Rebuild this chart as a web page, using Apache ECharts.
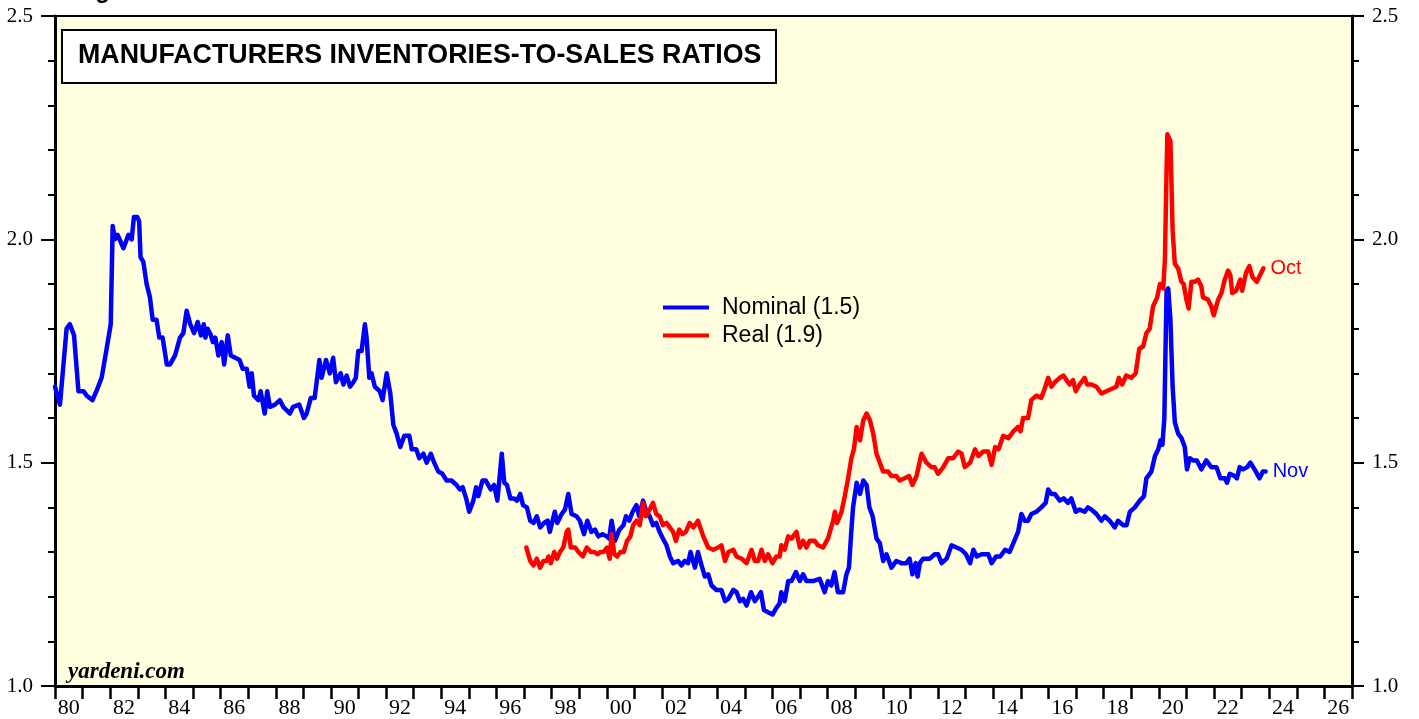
<!DOCTYPE html>
<html>
<head>
<meta charset="utf-8">
<title>Manufacturers Inventories-to-Sales Ratios</title>
<script src="https://cdn.jsdelivr.net/npm/echarts@6/dist/echarts.min.js"></script>
<style>
  html, body { margin: 0; padding: 0; background: #fff; }
  #chart { width: 1419px; height: 719px; }
</style>
</head>
<body>
<div id="chart"></div>
<script>
// values (decimal year, ratio)
const nominalYears = [
  1980.00, 1980.18, 1980.42, 1980.54, 1980.69, 1980.85, 1981.03, 1981.15, 1981.36, 1981.50,
  1981.69, 1981.87, 1982.02, 1982.09, 1982.17, 1982.27, 1982.48, 1982.66, 1982.78, 1982.86,
  1982.98, 1983.05, 1983.10, 1983.20, 1983.32, 1983.44, 1983.54, 1983.68, 1983.78, 1983.90,
  1984.05, 1984.17, 1984.35, 1984.53, 1984.65, 1984.77, 1984.90, 1985.04, 1985.17, 1985.29,
  1985.39, 1985.45, 1985.53, 1985.65, 1985.72, 1985.81, 1985.92, 1986.04, 1986.13, 1986.26,
  1986.37, 1986.53, 1986.69, 1986.80, 1986.95, 1987.05, 1987.13, 1987.21, 1987.37, 1987.45,
  1987.60, 1987.69, 1987.79, 1987.97, 1988.15, 1988.27, 1988.51, 1988.63, 1988.85, 1989.02,
  1989.12, 1989.27, 1989.41, 1989.58, 1989.66, 1989.82, 1989.96, 1990.08, 1990.18, 1990.35,
  1990.45, 1990.57, 1990.69, 1990.81, 1990.90, 1990.99, 1991.11, 1991.23, 1991.29, 1991.39,
  1991.47, 1991.59, 1991.77, 1991.87, 1992.02, 1992.15, 1992.26, 1992.38, 1992.51, 1992.66,
  1992.84, 1992.93, 1993.09, 1993.20, 1993.35, 1993.47, 1993.62, 1993.74, 1993.89, 1994.04,
  1994.19, 1994.37, 1994.55, 1994.67, 1994.77, 1994.90, 1995.01, 1995.16, 1995.26, 1995.34,
  1995.49, 1995.61, 1995.79, 1995.91, 1996.03, 1996.13, 1996.19, 1996.28, 1996.38, 1996.50,
  1996.64, 1996.74, 1996.86, 1996.96, 1997.10, 1997.22, 1997.34, 1997.46, 1997.58, 1997.72,
  1997.85, 1997.93, 1998.11, 1998.20, 1998.36, 1998.48, 1998.60, 1998.72, 1998.90, 1999.02,
  1999.17, 1999.29, 1999.44, 1999.57, 1999.69, 1999.84, 1999.99, 2000.08, 2000.17, 2000.29,
  2000.45, 2000.60, 2000.69, 2000.81, 2000.93, 2001.07, 2001.17, 2001.31, 2001.43, 2001.55,
  2001.67, 2001.79, 2001.91, 2002.03, 2002.16, 2002.28, 2002.40, 2002.58, 2002.70, 2002.82,
  2002.94, 2003.03, 2003.19, 2003.30, 2003.43, 2003.55, 2003.67, 2003.79, 2003.97, 2004.15,
  2004.28, 2004.40, 2004.58, 2004.70, 2004.82, 2004.94, 2005.06, 2005.22, 2005.36, 2005.48,
  2005.58, 2005.69, 2005.84, 2006.00, 2006.14, 2006.26, 2006.32, 2006.44, 2006.57, 2006.69,
  2006.85, 2006.99, 2007.11, 2007.23, 2007.47, 2007.71, 2007.89, 2008.01, 2008.13, 2008.25,
  2008.37, 2008.56, 2008.68, 2008.77, 2008.86, 2008.92, 2009.05, 2009.17, 2009.29, 2009.41,
  2009.51, 2009.63, 2009.77, 2009.89, 2010.01, 2010.13, 2010.31, 2010.49, 2010.67, 2010.85,
  2010.97, 2011.07, 2011.19, 2011.26, 2011.34, 2011.46, 2011.70, 2011.88, 2012.00, 2012.13,
  2012.31, 2012.49, 2012.67, 2012.85, 2013.01, 2013.16, 2013.28, 2013.40, 2013.58, 2013.82,
  2013.94, 2014.10, 2014.25, 2014.43, 2014.59, 2014.73, 2014.90, 2015.02, 2015.14, 2015.26,
  2015.38, 2015.56, 2015.74, 2015.90, 2015.99, 2016.11, 2016.23, 2016.41, 2016.55, 2016.71,
  2016.83, 2016.99, 2017.13, 2017.31, 2017.43, 2017.56, 2017.74, 2017.92, 2018.04, 2018.22,
  2018.40, 2018.52, 2018.71, 2018.83, 2018.95, 2019.13, 2019.31, 2019.46, 2019.55, 2019.73,
  2019.86, 2019.98, 2020.06, 2020.13, 2020.20, 2020.28, 2020.34, 2020.42, 2020.50, 2020.58,
  2020.70, 2020.82, 2020.94, 2021.02, 2021.12, 2021.24, 2021.38, 2021.54, 2021.72, 2021.90,
  2022.09, 2022.23, 2022.39, 2022.47, 2022.57, 2022.75, 2022.83, 2022.93, 2023.05, 2023.20,
  2023.32, 2023.47, 2023.65, 2023.77, 2023.87
];
const nominalValues = [
  1.67, 1.63, 1.80, 1.81, 1.785, 1.66, 1.66, 1.65, 1.64, 1.66,
  1.69, 1.755, 1.81, 2.03, 2.00, 2.01, 1.98, 2.01, 2.00, 2.05,
  2.05, 2.04, 1.96, 1.95, 1.90, 1.87, 1.82, 1.82, 1.78, 1.78,
  1.72, 1.72, 1.74, 1.78, 1.79, 1.84, 1.81, 1.79, 1.815, 1.785,
  1.81, 1.78, 1.80, 1.785, 1.77, 1.78, 1.74, 1.77, 1.72, 1.785,
  1.74, 1.735, 1.73, 1.71, 1.71, 1.67, 1.70, 1.65, 1.64, 1.66,
  1.61, 1.66, 1.625, 1.63, 1.64, 1.625, 1.61, 1.625, 1.63, 1.60,
  1.61, 1.645, 1.645, 1.73, 1.69, 1.73, 1.70, 1.735, 1.68, 1.70,
  1.675, 1.695, 1.67, 1.68, 1.69, 1.75, 1.75, 1.81, 1.78, 1.69,
  1.70, 1.67, 1.66, 1.64, 1.70, 1.655, 1.585, 1.565, 1.535, 1.56,
  1.56, 1.53, 1.53, 1.51, 1.52, 1.50, 1.52, 1.50, 1.48, 1.475,
  1.46, 1.46, 1.45, 1.44, 1.445, 1.42, 1.39, 1.415, 1.445, 1.425,
  1.46, 1.46, 1.44, 1.45, 1.415, 1.48, 1.52, 1.455, 1.45, 1.42,
  1.42, 1.415, 1.43, 1.405, 1.40, 1.37, 1.365, 1.38, 1.355, 1.365,
  1.37, 1.345, 1.39, 1.365, 1.385, 1.395, 1.43, 1.385, 1.38, 1.37,
  1.34, 1.37, 1.345, 1.35, 1.335, 1.34, 1.335, 1.33, 1.37, 1.325,
  1.35, 1.36, 1.38, 1.37, 1.39, 1.405, 1.38, 1.415, 1.39, 1.38,
  1.36, 1.365, 1.345, 1.33, 1.315, 1.29, 1.275, 1.28, 1.27, 1.28,
  1.275, 1.30, 1.265, 1.30, 1.27, 1.245, 1.25, 1.225, 1.215, 1.215,
  1.19, 1.195, 1.215, 1.21, 1.19, 1.195, 1.18, 1.21, 1.19, 1.20,
  1.21, 1.17, 1.165, 1.16, 1.175, 1.185, 1.21, 1.19, 1.235, 1.235,
  1.255, 1.235, 1.25, 1.235, 1.235, 1.24, 1.21, 1.235, 1.225, 1.255,
  1.21, 1.21, 1.25, 1.265, 1.35, 1.40, 1.455, 1.43, 1.46, 1.45,
  1.40, 1.38, 1.33, 1.32, 1.28, 1.295, 1.265, 1.28, 1.275, 1.275,
  1.285, 1.25, 1.275, 1.245, 1.275, 1.285, 1.285, 1.295, 1.295, 1.275,
  1.285, 1.315, 1.31, 1.305, 1.295, 1.275, 1.305, 1.29, 1.295, 1.295,
  1.275, 1.29, 1.29, 1.305, 1.30, 1.32, 1.345, 1.385, 1.37, 1.37,
  1.385, 1.39, 1.40, 1.41, 1.44, 1.43, 1.43, 1.415, 1.42, 1.41,
  1.42, 1.39, 1.395, 1.39, 1.40, 1.395, 1.385, 1.37, 1.38, 1.37,
  1.355, 1.37, 1.36, 1.36, 1.39, 1.40, 1.415, 1.425, 1.465, 1.48,
  1.515, 1.53, 1.55, 1.54, 1.60, 1.885, 1.89, 1.82, 1.67, 1.59,
  1.565, 1.555, 1.535, 1.485, 1.51, 1.505, 1.505, 1.485, 1.505, 1.49,
  1.49, 1.465, 1.465, 1.455, 1.475, 1.47, 1.465, 1.49, 1.485, 1.49,
  1.50, 1.485, 1.465, 1.48, 1.48
];

const realYears = [
  1997.08, 1997.22, 1997.34, 1997.46, 1997.58, 1997.70, 1997.82, 1997.88, 1997.97, 1998.09,
  1998.19, 1998.30, 1998.42, 1998.54, 1998.60, 1998.69, 1998.85, 1998.97, 1999.13, 1999.27,
  1999.42, 1999.54, 1999.66, 1999.76, 1999.88, 2000.00, 2000.10, 2000.17, 2000.27, 2000.37,
  2000.49, 2000.61, 2000.73, 2000.85, 2000.95, 2001.07, 2001.19, 2001.31, 2001.41, 2001.55,
  2001.67, 2001.79, 2001.91, 2002.03, 2002.16, 2002.28, 2002.40, 2002.50, 2002.62, 2002.74,
  2002.86, 2003.00, 2003.13, 2003.30, 2003.49, 2003.67, 2003.85, 2004.03, 2004.15, 2004.28,
  2004.40, 2004.58, 2004.70, 2004.88, 2005.06, 2005.24, 2005.36, 2005.48, 2005.60, 2005.72,
  2005.84, 2006.00, 2006.14, 2006.26, 2006.32, 2006.44, 2006.57, 2006.69, 2006.87, 2006.99,
  2007.11, 2007.23, 2007.35, 2007.53, 2007.65, 2007.83, 2008.01, 2008.20, 2008.26, 2008.34,
  2008.50, 2008.62, 2008.74, 2008.86, 2008.95, 2009.05, 2009.17, 2009.29, 2009.41, 2009.53,
  2009.65, 2009.77, 2009.89, 2010.01, 2010.19, 2010.31, 2010.49, 2010.61, 2010.79, 2010.95,
  2011.07, 2011.22, 2011.40, 2011.58, 2011.76, 2011.88, 2012.00, 2012.19, 2012.37, 2012.55,
  2012.73, 2012.85, 2012.97, 2013.16, 2013.34, 2013.46, 2013.64, 2013.82, 2013.94, 2014.07,
  2014.19, 2014.36, 2014.55, 2014.73, 2014.90, 2014.99, 2015.08, 2015.26, 2015.38, 2015.56,
  2015.74, 2015.86, 2015.99, 2016.11, 2016.23, 2016.41, 2016.55, 2016.65, 2016.77, 2016.89,
  2016.99, 2017.13, 2017.31, 2017.40, 2017.56, 2017.74, 2017.92, 2018.10, 2018.28, 2018.46,
  2018.55, 2018.67, 2018.82, 2019.00, 2019.16, 2019.29, 2019.43, 2019.55, 2019.67, 2019.79,
  2019.94, 2020.04, 2020.16, 2020.22, 2020.28, 2020.31, 2020.42, 2020.50, 2020.58, 2020.70,
  2020.82, 2020.90, 2021.00, 2021.08, 2021.18, 2021.30, 2021.42, 2021.54, 2021.60, 2021.78,
  2021.90, 2021.99, 2022.15, 2022.27, 2022.39, 2022.51, 2022.59, 2022.66, 2022.80, 2022.95,
  2023.02, 2023.16, 2023.28, 2023.40, 2023.55, 2023.71, 2023.79
];
const realValues = [
  1.31, 1.28, 1.27, 1.285, 1.265, 1.28, 1.28, 1.29, 1.275, 1.30,
  1.285, 1.30, 1.31, 1.345, 1.35, 1.31, 1.31, 1.30, 1.29, 1.31,
  1.30, 1.30, 1.295, 1.30, 1.30, 1.31, 1.285, 1.34, 1.295, 1.29,
  1.30, 1.30, 1.325, 1.335, 1.36, 1.37, 1.36, 1.41, 1.38, 1.395,
  1.41, 1.385, 1.38, 1.36, 1.365, 1.355, 1.345, 1.325, 1.35, 1.34,
  1.345, 1.365, 1.355, 1.37, 1.335, 1.31, 1.305, 1.31, 1.315, 1.28,
  1.30, 1.305, 1.29, 1.285, 1.275, 1.305, 1.28, 1.28, 1.305, 1.28,
  1.295, 1.275, 1.29, 1.29, 1.315, 1.305, 1.335, 1.33, 1.345, 1.31,
  1.325, 1.31, 1.325, 1.325, 1.315, 1.31, 1.33, 1.37, 1.39, 1.365,
  1.39, 1.425, 1.465, 1.51, 1.53, 1.58, 1.55, 1.595, 1.61, 1.595,
  1.565, 1.52, 1.50, 1.48, 1.48, 1.47, 1.47, 1.46, 1.465, 1.47,
  1.45, 1.47, 1.52, 1.50, 1.49, 1.49, 1.475, 1.49, 1.51, 1.51,
  1.525, 1.52, 1.49, 1.50, 1.53, 1.515, 1.525, 1.525, 1.495, 1.535,
  1.53, 1.56, 1.555, 1.57, 1.58, 1.57, 1.60, 1.60, 1.64, 1.65,
  1.645, 1.665, 1.69, 1.67, 1.68, 1.69, 1.695, 1.685, 1.675, 1.685,
  1.66, 1.675, 1.69, 1.675, 1.675, 1.67, 1.655, 1.66, 1.665, 1.67,
  1.69, 1.675, 1.695, 1.69, 1.70, 1.755, 1.76, 1.79, 1.80, 1.85,
  1.87, 1.90, 1.89, 1.955, 2.155, 2.235, 2.22, 2.02, 1.945, 1.935,
  1.905, 1.90, 1.865, 1.845, 1.905, 1.905, 1.91, 1.895, 1.87, 1.865,
  1.85, 1.83, 1.865, 1.88, 1.91, 1.93, 1.92, 1.88, 1.885, 1.91,
  1.885, 1.925, 1.94, 1.915, 1.905, 1.925, 1.935
];

const yTickLabels = [1.0, 1.5, 2.0, 2.5];

let zip = (xs, ys) => xs.map((x, i) => [x, ys[i]]);

let myChart = echarts.init(document.getElementById('chart'));

const serif = '"Liberation Serif", "Times New Roman", serif';
const sans = '"Liberation Sans", Arial, sans-serif';

let yMajor = (pos, margin, tickLen) => ({
  type: 'value',
  position: pos,
  min: 1,
  max: 2.5,
  interval: 0.5,
  axisLine: { show: true, lineStyle: { color: '#000', width: 3 } },
  axisTick: { show: true, length: tickLen, lineStyle: { color: '#000', width: 2 } },
  axisLabel: {
    margin: margin,
    color: '#000',
    fontFamily: serif,
    fontSize: 21,
    formatter: v => yTickLabels.some(t => Math.abs(t - v) < 1e-6) ? v.toFixed(1) : ''
  },
  splitLine: { show: false }
});
let yMinor = pos => ({
  type: 'value',
  position: pos,
  min: 1,
  max: 2.5,
  interval: 0.1,
  axisLine: { show: false },
  axisTick: { show: true, length: 7, lineStyle: { color: '#000', width: 2 } },
  axisLabel: { show: false },
  splitLine: { show: false }
});

let option = {
  animation: false,
  backgroundColor: '#fff',
  grid: {
    left: 55,
    right: 67,
    top: 16,
    bottom: 31,
    show: true,
    backgroundColor: '#FFFFE0',
    borderColor: '#000',
    borderWidth: 2
  },
  legend: {
    data: ['Nominal (1.5)', 'Real (1.9)'],
    orient: 'vertical',
    left: 658,
    top: 291,
    icon: 'rect',
    itemWidth: 46,
    itemHeight: 4,
    itemGap: 5,
    textStyle: { color: '#000', fontFamily: sans, fontSize: 23, padding: [0, 0, 0, 8] }
  },
  xAxis: [
    {
      type: 'value',
      position: 'bottom',
      min: 1980,
      max: 2027,
      interval: 1,
      axisLine: { show: true, onZero: false, lineStyle: { color: '#000', width: 3 } },
      axisTick: { show: true, length: 13, lineStyle: { color: '#000', width: 2.5 } },
      axisLabel: { show: false },
      splitLine: { show: false }
    },
    {
      // labels sit in the middle of each year
      type: 'value',
      position: 'bottom',
      offset: 0,
      min: 1979.5,
      max: 2026.5,
      interval: 0.5,
      axisLine: { show: false, onZero: false },
      axisTick: { show: false },
      axisLabel: {
        margin: 11,
        color: '#000',
        fontFamily: serif,
        fontSize: 22,
        formatter: v => (Number.isInteger(v) && v % 2 === 0) ? String(v).slice(2) : ''
      },
      splitLine: { show: false }
    }
  ],
  yAxis: [yMajor('left', 22, 14), yMinor('left'), yMajor('right', 20, 12), yMinor('right')],
  series: [
    {
      name: 'Nominal (1.5)',
      type: 'line',
      xAxisIndex: 0,
      yAxisIndex: 0,
      data: zip(nominalYears, nominalValues),
      showSymbol: false,
      color: '#0000FF',
      lineStyle: { color: '#0000FF', width: 4.5, join: 'round', cap: 'round' },
      endLabel: {
        show: true,
        formatter: 'Nov',
        color: '#0000FF',
        fontFamily: sans,
        fontSize: 20,
        distance: 7
      }
    },
    {
      name: 'Real (1.9)',
      type: 'line',
      xAxisIndex: 0,
      yAxisIndex: 0,
      data: zip(realYears, realValues),
      showSymbol: false,
      color: '#FF0000',
      lineStyle: { color: '#FF0000', width: 4.5, join: 'round', cap: 'round' },
      endLabel: {
        show: true,
        formatter: 'Oct',
        color: '#FF0000',
        fontFamily: sans,
        fontSize: 20,
        distance: 7
      }
    }
  ],
  graphic: [
    {
      type: 'text',
      x: 74,
      y: 3,
      style: { text: 'Figure 1.', fill: '#000', font: 'bold 24px ' + sans, verticalAlign: 'bottom' }
    },
    {
      type: 'rect',
      shape: { x: 62, y: 30, width: 714, height: 53 },
      style: { fill: '#fff', stroke: '#000', lineWidth: 2 },
      z: 10
    },
    {
      type: 'text',
      x: 78,
      y: 56,
      style: {
        text: 'MANUFACTURERS INVENTORIES-TO-SALES RATIOS',
        fill: '#000',
        font: 'bold 26.8px ' + sans,
        verticalAlign: 'middle'
      },
      z: 11
    },
    {
      type: 'text',
      x: 68,
      y: 672,
      style: {
        text: 'yardeni.com',
        fill: '#000',
        font: 'italic bold 23px ' + serif,
        verticalAlign: 'middle'
      },
      z: 11
    }
  ]
};
myChart.setOption(option);
</script>
</body>
</html>
